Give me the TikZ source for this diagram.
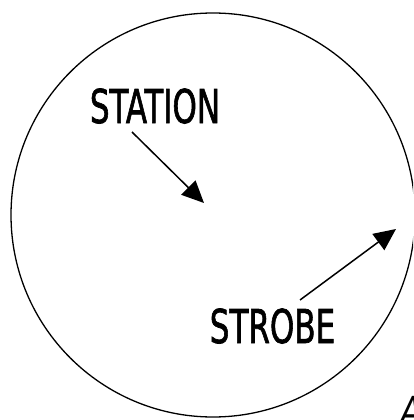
\documentclass[tikz,border=0pt]{standalone}
\usepackage{fontspec}
\newfontfamily\labelfont[FakeBold=1.6]{DejaVu Sans Condensed}
\newfontfamily\thinfont{DejaVu Sans Condensed}
\usetikzlibrary{arrows.meta}
\begin{document}
\begin{tikzpicture}[x=1pt,y=-1pt,
  lbl/.style={inner sep=0pt,anchor=base,font=\labelfont\fontsize{46.6}{50}\selectfont},
  ptr/.style={line width=1.5pt,-{Triangle[length=22pt,width=20pt]}}]
\useasboundingbox (0,0) rectangle (413,420);
\begin{scope}
\clip (0,0) rectangle (413,420);
\node[circle,draw,line width=1.3pt,minimum size=404pt,inner sep=0pt] (ring) at (213,215) {};
\node[lbl] (station) at (155,123) {\scalebox{0.74}[1]{STATION}};
\node[lbl] (strobe) at (272.5,343) {\scalebox{0.74}[1]{STROBE}};
\node[inner sep=0pt,anchor=base west,font=\thinfont\fontsize{40}{44}\selectfont] (a) at (400,425) {\scalebox{0.9}[1]{\itshape A}};
\coordinate (t1) at (204,203);
\coordinate (s1) at (132,132);
\coordinate (t2) at (396,229);
\coordinate (s2) at (300,300);
\draw[ptr] (s1) -- (t1);
\draw[ptr] (s2) -- (t2);
\end{scope}
\end{tikzpicture}
\end{document}
